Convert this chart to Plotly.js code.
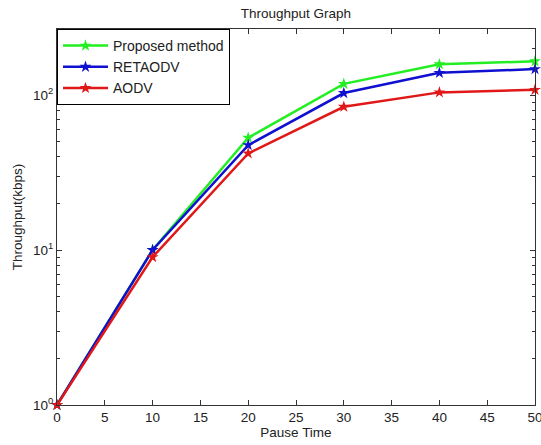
<!DOCTYPE html>
<html>
<head>
<meta charset="utf-8">
<script src="https://cdn.plot.ly/plotly-3.0.1.min.js"></script>
<style>html,body{margin:0;padding:0;background:#fff;}#chart{width:541px;height:445px;}</style>
</head>
<body>
<div id="chart"></div>
<script>
const pauseTime = [0, 10, 20, 30, 40, 50];
const proposed = [1, 10, 53, 118, 158, 165];
const retaodv = [1, 10, 47.5, 103, 139, 147];
const aodv = [1, 9, 42, 84, 104, 108];
const seriesNames = ["Proposed method", "RETAODV", "AODV"];
const xTicks = [0, 5, 10, 15, 20, 25, 30, 35, 40, 45, 50];
const yTickVals = [1, 10, 100];
const yTickText = ["10<sup>0</sup>", "10<sup>1</sup>", "10<sup>2</sup>"];
const yMinorVals = [2,3,4,5,6,7,8,9,20,30,40,50,60,70,80,90,200];

const fontFam = "Liberation Sans, Arial, sans-serif";
function tr(y, name, color) {
  return {
    x: pauseTime, y: y, name: name, type: "scatter", mode: "lines+markers",
    line: {color: color, width: 2.5},
    marker: {symbol: "star", size: 9, color: color},
    cliponaxis: false
  };
}
const data = [
  tr(proposed, seriesNames[0], "#22ee22"),
  tr(retaodv, seriesNames[1], "#1010d0"),
  tr(aodv, seriesNames[2], "#e01818")
];
const layout = {
  width: 541, height: 445,
  margin: {l: 57, r: 6, t: 29, b: 40},
  paper_bgcolor: "#fff", plot_bgcolor: "#fff",
  font: {family: fontFam, size: 13, color: "#222"},
  title: {text: "Throughput Graph", x: 0.547, xanchor: "center", y: 0.97, yanchor: "middle", font: {size: 13.5, color: "#222"}},
  showlegend: true,
  legend: {x: 0, y: 1, xanchor: "left", yanchor: "top", bgcolor: "#fff", bordercolor: "#000", borderwidth: 1,
           font: {size: 14, color: "#222"}, tracegroupgap: 0, itemwidth: 45},
  xaxis: {
    range: [0, 50], tickmode: "array", tickvals: xTicks, ticks: "inside", ticklen: 5, tickcolor: "#333",
    showline: true, linecolor: "#333", linewidth: 1, mirror: "allticks", showgrid: false, zeroline: false,
    ticklabeloverflow: "allow",
    tickfont: {size: 13.5, color: "#222"},
    title: {text: "Pause Time", standoff: 3, font: {size: 13.5, color: "#222"}}
  },
  yaxis: {
    type: "log", range: [0, 2.426], tickmode: "array", tickvals: yTickVals, ticktext: yTickText,
    ticks: "inside", ticklen: 5, tickcolor: "#333",
    showline: true, linecolor: "#333", linewidth: 1, mirror: "allticks", showgrid: false, zeroline: false,
    tickfont: {size: 13.5, color: "#222"},
    minor: {tickmode: "array", tickvals: yMinorVals, ticks: "inside", ticklen: 3, tickcolor: "#333", showgrid: false},
    title: {text: "Throughput(kbps)", standoff: 7, font: {size: 13.5, color: "#222"}}
  }
};
Plotly.newPlot("chart", data, layout, {displayModeBar: false, staticPlot: true});
</script>
</body>
</html>
